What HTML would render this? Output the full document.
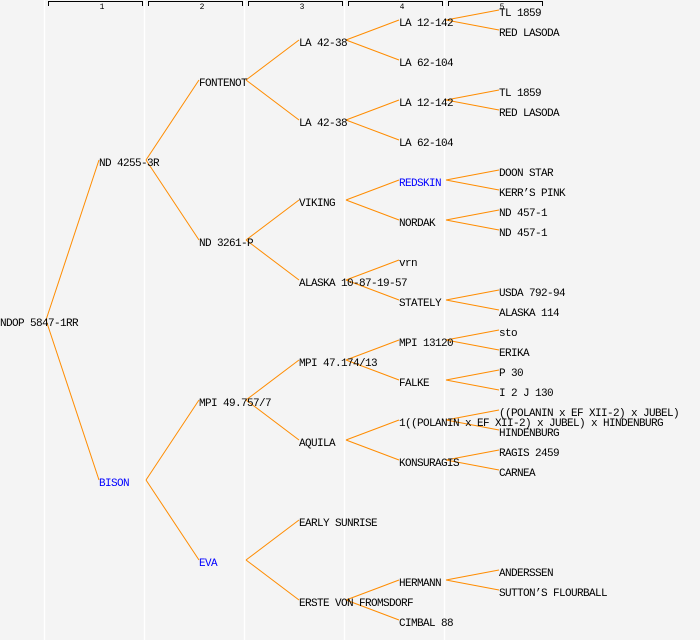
<!DOCTYPE html>
<html><head><meta charset="utf-8"><style>
html,body{margin:0;padding:0;background:#f4f4f4}
svg{display:block}
text{font-family:"Liberation Mono","DejaVu Sans Mono",monospace;font-size:11px;letter-spacing:-0.6px;fill:#000}
</style></head><body>
<svg id="s" width="700" height="640" xmlns="http://www.w3.org/2000/svg">
<rect width="700" height="640" fill="#f4f4f4"/>
<g stroke="#ffffff" stroke-width="1.3">
<line x1="44.5" y1="0" x2="44.5" y2="640"/><line x1="144.5" y1="0" x2="144.5" y2="640"/>
<line x1="244.5" y1="0" x2="244.5" y2="640"/><line x1="344.5" y1="0" x2="344.5" y2="640"/>
<line x1="444.5" y1="0" x2="444.5" y2="640"/>
</g>
<g stroke="#000" stroke-width="1" fill="none">
<path d="M48.5 6V1.5H142.5V6"/><path d="M148.5 6V1.5H242.5V6"/><path d="M248.5 6V1.5H342.5V6"/><path d="M348.5 6V1.5H442.5V6"/><path d="M448.5 6V1.5H542.5V6"/>
</g>
<g text-anchor="middle">
<text x="102" y="9" style="font-size:8px;letter-spacing:0">1</text><text x="202" y="9" style="font-size:8px;letter-spacing:0">2</text><text x="302" y="9" style="font-size:8px;letter-spacing:0">3</text><text x="402" y="9" style="font-size:8px;letter-spacing:0">4</text><text x="502" y="9" style="font-size:8px;letter-spacing:0">5</text>
</g>
<g id="lines" stroke="#ff8c00" stroke-width="1" fill="none"></g>
<g id="labels"></g>
</svg>
<script>
var N=[
["NDOP 5847-1RR",0,322,-1],
["ND 4255-3R",99,162,0],["BISON",99,482,0,1],
["FONTENOT",199,82,1],["ND 3261-P",199,242,1],["MPI 49.757/7",199,402,2],["EVA",199,562,2,1],
["LA 42-38",299,42,3],["LA 42-38",299,122,3],["VIKING",299,202,4],["ALASKA 10-87-19-57",299,282,4],["MPI 47.174/13",299,362,5],["AQUILA",299,442,5],["EARLY SUNRISE",299,522,6],["ERSTE VON FROMSDORF",299,602,6],
["LA 12-142",399,22,7],["LA 62-104",399,62,7],["LA 12-142",399,102,8],["LA 62-104",399,142,8],["REDSKIN",399,182,9,1],["NORDAK",399,222,9],["vrn",399,262,10],["STATELY",399,302,10],["MPI 13120",399,342,11],["FALKE",399,382,11],["1((POLANIN x EF XII-2) x JUBEL) x HINDENBURG",399,422,12],["KONSURAGIS",399,462,12],["HERMANN",399,582,14],["CIMBAL 88",399,622,14],
["TL 1859",499,12,15],["RED LASODA",499,32,15],["TL 1859",499,92,17],["RED LASODA",499,112,17],["DOON STAR",499,172,19],["KERR\u2019S PINK",499,192,19],["ND 457-1",499,212,20],["ND 457-1",499,232,20],["USDA 792-94",499,292,22],["ALASKA 114",499,312,22],["sto",499,332,23],["ERIKA",499,352,23],["P 30",499,372,24],["I 2 J 130",499,392,24],["((POLANIN x EF XII-2) x JUBEL)",499,412,25],["HINDENBURG",499,432,25],["RAGIS 2459",499,452,26],["CARNEA",499,472,26],["ANDERSSEN",499,572,27],["SUTTON\u2019S FLOURBALL",499,592,27]
];
var L=document.getElementById('lines'),T=document.getElementById('labels'),ns="http://www.w3.org/2000/svg";
N.forEach(function(n){
 var t=document.createElementNS(ns,'text');t.setAttribute('x',n[1]);t.setAttribute('y',n[2]+4);t.textContent=n[0];
 if(n[4])t.setAttribute('style','fill:#0000ff');T.appendChild(t);
 if(n[3]>=0){var p=N[n[3]];var sx=n[1]-53;
  var l=document.createElementNS(ns,'line');l.setAttribute('x1',sx);l.setAttribute('y1',p[2]-2);l.setAttribute('x2',n[1]);l.setAttribute('y2',n[2]-2);L.appendChild(l);}
});
</script>
</body></html>
